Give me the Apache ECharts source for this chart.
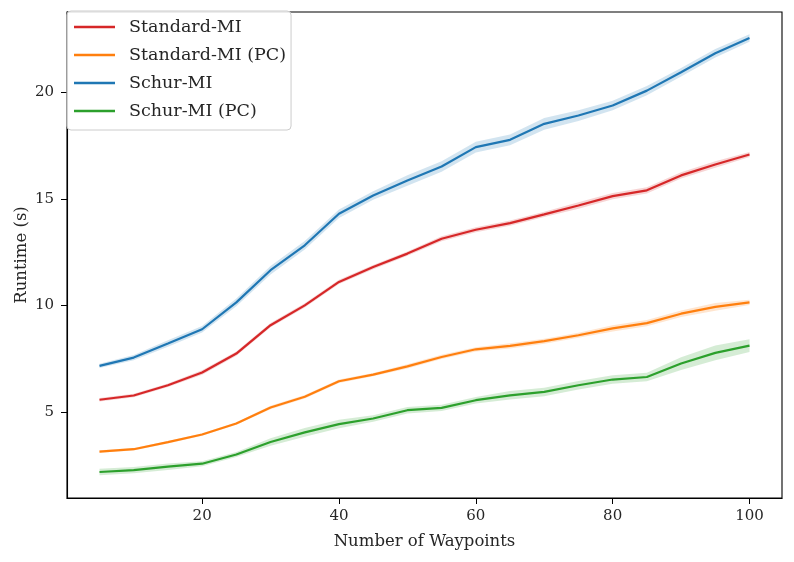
<!DOCTYPE html>
<html>
<head>
<meta charset="utf-8">
<script src="https://cdn.jsdelivr.net/npm/echarts@6/dist/echarts.min.js"></script>
<style>html,body{margin:0;padding:0;background:#fff;}#c{width:794px;height:562px;}</style>
</head>
<body>
<div id="c"></div>
<script>
const waypoints = [5,10,15,20,25,30,35,40,45,50,55,60,65,70,75,80,85,90,95,100];
const standardMI   = [5.58,5.78,6.26,6.86,7.75,9.08,10.01,11.11,11.81,12.44,13.14,13.56,13.87,14.28,14.70,15.14,15.41,16.11,16.62,17.09];
const standardMIPC = [3.15,3.26,3.59,3.95,4.47,5.22,5.72,6.45,6.76,7.15,7.59,7.95,8.11,8.33,8.61,8.93,9.18,9.62,9.94,10.15];
const schurMI      = [7.17,7.56,8.22,8.89,10.15,11.66,12.83,14.31,15.17,15.87,16.53,17.44,17.78,18.53,18.92,19.39,20.09,20.95,21.84,22.56];
const schurMIPC    = [2.19,2.28,2.44,2.58,3.01,3.60,4.05,4.44,4.70,5.09,5.20,5.56,5.79,5.95,6.26,6.53,6.65,7.28,7.78,8.12];
// confidence band half-widths read from the shaded regions
const ciStandardMI   = [0.08,0.08,0.08,0.10,0.10,0.10,0.10,0.10,0.10,0.10,0.12,0.12,0.12,0.12,0.15,0.15,0.15,0.15,0.15,0.12];
const ciStandardMIPC = [0.06,0.06,0.06,0.06,0.06,0.08,0.08,0.08,0.08,0.10,0.10,0.10,0.12,0.12,0.12,0.15,0.15,0.15,0.18,0.12];
const ciSchurMI      = [0.10,0.12,0.15,0.15,0.18,0.20,0.20,0.20,0.20,0.25,0.25,0.25,0.25,0.28,0.25,0.22,0.22,0.20,0.20,0.18];
const ciSchurMIPC    = [0.15,0.15,0.15,0.12,0.12,0.18,0.20,0.20,0.15,0.15,0.15,0.15,0.20,0.20,0.20,0.20,0.20,0.30,0.35,0.30];
const seriesNames = ['Standard-MI','Standard-MI (PC)','Schur-MI','Schur-MI (PC)'];
const xTicks = [20,40,60,80,100];
const yTicks = [5,10,15,20];

const colors = ['#d62728','#ff7f0e','#1f77b4','#2ca02c'];
const means = [standardMI, standardMIPC, schurMI, schurMIPC];
const cis = [ciStandardMI, ciStandardMIPC, ciSchurMI, ciSchurMIPC];
const FONT = 'DejaVu Serif';
const TXT = '#262626';

function hexA(h, a){
  const r=parseInt(h.slice(1,3),16),g=parseInt(h.slice(3,5),16),b=parseInt(h.slice(5,7),16);
  return 'rgba('+r+','+g+','+b+','+a+')';
}

const series = [];
means.forEach((m, i) => {
  const ci = cis[i];
  series.push({
    name: seriesNames[i] + ' band',
    type: 'custom',
    silent: true,
    z: 1,
    data: [[waypoints[0], m[0]]],
    renderItem: function(params, api){
      const pts = [];
      for (let k = 0; k < waypoints.length; k++) pts.push(api.coord([waypoints[k], m[k] + ci[k]]));
      for (let k = waypoints.length - 1; k >= 0; k--) pts.push(api.coord([waypoints[k], m[k] - ci[k]]));
      return { type: 'polygon', shape: { points: pts }, style: { fill: hexA(colors[i], 0.2), stroke: null } };
    }
  });
});
means.forEach((m, i) => {
  series.push({
    name: seriesNames[i],
    type: 'line',
    z: 3,
    symbol: 'none',
    color: colors[i],
    lineStyle: { width: 2.2, color: colors[i] },
    data: waypoints.map((x, k) => [x, m[k]])
  });
});

const chart = echarts.init(document.getElementById('c'), null, { renderer: 'canvas' });
chart.setOption({
  animation: false,
  backgroundColor: '#fff',
  grid: { left: 67, right: 12, top: 12, bottom: 64, show: true, borderColor: '#000', borderWidth: 1.1, backgroundColor: 'transparent' },
  xAxis: {
    type: 'value', min: 0.25, max: 104.75,
    name: 'Number of Waypoints', nameLocation: 'middle', nameGap: 35, nameMoveOverlap: false,
    nameTextStyle: { fontFamily: FONT, fontSize: 16.5, color: TXT },
    axisLine: { show: true, onZero: false, lineStyle: { color: '#000', width: 1.1 } },
    axisTick: { show: true, length: 6, lineStyle: { color: '#000', width: 1 }, customValues: xTicks },
    axisLabel: { fontFamily: FONT, fontSize: 15, color: TXT, margin: 11, customValues: xTicks },
    splitLine: { show: false }
  },
  yAxis: {
    type: 'value', min: 0.97, max: 23.78,
    name: 'Runtime (s)', nameLocation: 'middle', nameGap: 37, nameMoveOverlap: false,
    nameTextStyle: { fontFamily: FONT, fontSize: 16.5, color: TXT },
    axisLine: { show: true, onZero: false, lineStyle: { color: '#000', width: 1.1 } },
    axisTick: { show: true, length: 6, lineStyle: { color: '#000', width: 1 }, customValues: yTicks },
    axisLabel: { fontFamily: FONT, fontSize: 15, color: TXT, margin: 13, customValues: yTicks },
    splitLine: { show: false }
  },
  legend: {
    data: seriesNames,
    orient: 'vertical',
    left: 67, top: 11,
    icon: 'rect',
    itemWidth: 41, itemHeight: 2.5,
    itemGap: 8,
    padding: [6, 5, 9, 7],
    backgroundColor: 'rgba(255,255,255,0.85)',
    borderColor: '#cccccc', borderWidth: 1, borderRadius: 4,
    textStyle: { fontFamily: FONT, fontSize: 17.5, color: TXT, lineHeight: 20, padding: [0, 0, 0, 9] },
    selectedMode: false
  },
  series: series
});
</script>
</body>
</html>
